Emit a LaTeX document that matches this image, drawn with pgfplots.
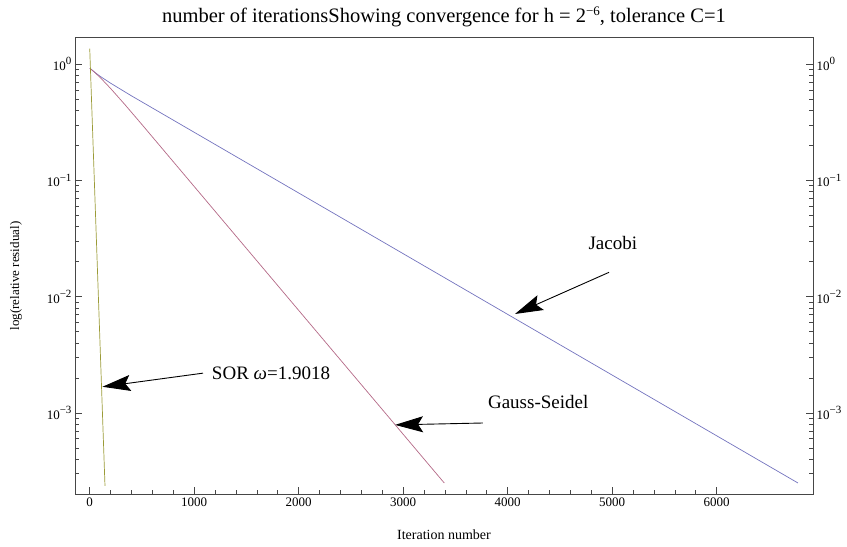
\documentclass[border=0pt]{standalone}
\usepackage{fontspec}
\setmainfont{Liberation Serif}
\usepackage{pgfplots}
\pgfplotsset{compat=1.18}
\usetikzlibrary{arrows.meta}
\definecolor{jac}{RGB}{115,115,190}
\definecolor{gs}{RGB}{180,105,135}
\definecolor{sor}{RGB}{155,155,55}
\definecolor{frm}{RGB}{70,70,70}
\newcommand{\tp}[1]{10\raisebox{5.5pt}{\fontsize{11}{12}\selectfont #1}}
\begin{document}
\begin{tikzpicture}
\begin{axis}[
  scale only axis, width=738pt, height=457pt,
  ymode=log, xmin=-141, xmax=6922, ymin=2.01e-4, ymax=1.71,
  axis line style={frm, line width=0.9pt},
  major tick style={frm, line width=0.7pt},
  minor tick style={frm, line width=0.7pt},
  tick align=inside,
  major tick length=7pt, minor tick length=4pt,
  ytick={1,0.1,0.01,0.001},
  yticklabels={\tp{0},\tp{−1},\tp{−2},\tp{−3}},
  minor ytick={2e-4,3e-4,4e-4,5e-4,6e-4,7e-4,8e-4,9e-4,2e-3,3e-3,4e-3,5e-3,6e-3,7e-3,8e-3,9e-3,0.02,0.03,0.04,0.05,0.06,0.07,0.08,0.09,0.2,0.3,0.4,0.5,0.6,0.7,0.8,0.9},
  yticklabel style={font=\fontsize{13}{15}\selectfont},
  xticklabel style={font=\fontsize{13}{15}\selectfont},
  xtick={0,1000,2000,3000,4000,5000,6000},
  xticklabels={0,1000,2000,3000,4000,5000,6000},
  minor x tick num=4,
  xtick pos=bottom, ytick pos=left,
  title={number of iterationsShowing convergence for h = 2\raisebox{7pt}{\fontsize{13}{14}\selectfont −6}, tolerance C=1},
  title style={font=\fontsize{20.5}{24}\selectfont, at={(axis description cs:0.5,1.030)}, anchor=center},
  xlabel={Iteration number},
  xlabel style={font=\fontsize{14}{16}\selectfont, at={(axis description cs:0.5,-0.0897)}, anchor=center},
  ylabel={log(relative residual)},
  ylabel style={font=\fontsize{13}{15}\selectfont, at={(axis description cs:-0.080,0.477)}, anchor=center},
]
\addplot[jac, line width=0.7pt] coordinates {(0,0.925) (50,0.847) (100,0.785) (200,0.685) (400,0.533) (6778,2.5e-4)};
\addplot[gs, line width=0.7pt] coordinates {(0,0.92) (35,0.869) (100,0.767) (200,0.617) (338,0.447) (500,0.302) (3393,2.5e-4)};
\addplot[sor, line width=0.7pt] coordinates {(0,1.36) (146,2.36e-4)};
\coordinate (sw) at (rel axis cs:0,0);
\coordinate (ne) at (rel axis cs:1,1);
\node[font=\fontsize{19}{22}\selectfont] at (axis cs:1735,2.2e-3) {SOR \textit{ω}=1.9018};
\draw[line width=0.9pt, -{Stealth[length=28pt,width=16pt,inset=5pt]}] (axis cs:1084,2.2e-3) -- (axis cs:122,1.68e-3);
\node[font=\fontsize{19}{22}\selectfont] at (axis cs:4292,1.24e-3) {Gauss-Seidel};
\draw[line width=0.9pt, -{Stealth[length=28pt,width=16pt,inset=5pt]}] (axis cs:3763,8.2e-4) -- (axis cs:2922,7.9e-4);
\node[font=\fontsize{19}{22}\selectfont] at (axis cs:5006,0.0288) {Jacobi};
\draw[line width=0.9pt, -{Stealth[length=28pt,width=16pt,inset=5pt]}] (axis cs:4970,0.0162) -- (axis cs:4070,7.1e-3);
\end{axis}
\begin{axis}[
  scale only axis, width=738pt, height=457pt,
  ymode=log, xmin=-141, xmax=6922, ymin=2.01e-4, ymax=1.71,
  axis x line=none, axis y line*=right,
  axis line style={frm, line width=0.9pt},
  major tick style={frm, line width=0.7pt},
  minor tick style={frm, line width=0.7pt},
  tick align=inside,
  major tick length=7pt, minor tick length=4pt,
  ytick={1,0.1,0.01,0.001},
  yticklabels={\tp{0},\tp{−1},\tp{−2},\tp{−3}},
  minor ytick={2e-4,3e-4,4e-4,5e-4,6e-4,7e-4,8e-4,9e-4,2e-3,3e-3,4e-3,5e-3,6e-3,7e-3,8e-3,9e-3,0.02,0.03,0.04,0.05,0.06,0.07,0.08,0.09,0.2,0.3,0.4,0.5,0.6,0.7,0.8,0.9},
  yticklabel style={font=\fontsize{13}{15}\selectfont},
]
\end{axis}
\pgfresetboundingbox
\path ([shift={(-75pt,-52pt)}]sw) rectangle ([shift={(34pt,37pt)}]ne);
\end{tikzpicture}
\end{document}
